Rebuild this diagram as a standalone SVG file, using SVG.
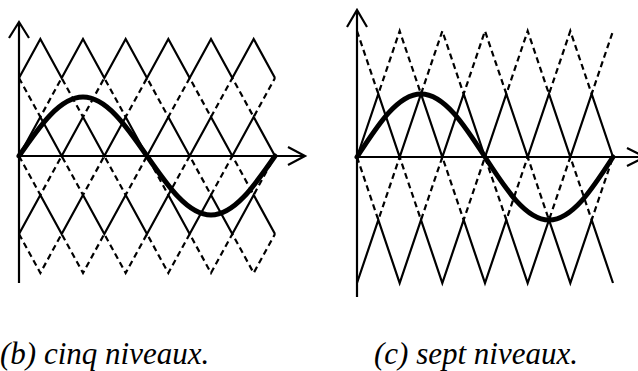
<svg xmlns="http://www.w3.org/2000/svg" xmlns:xlink="http://www.w3.org/1999/xlink" width="638" height="371" viewBox="0 0 638 371">
<text x="0" y="364" font-family="Liberation Serif" font-style="italic" font-size="31">(b) cinq niveaux.</text>
<text x="374" y="364" font-family="Liberation Serif" font-style="italic" font-size="31">(c) sept niveaux.</text>
<defs>
<path id="solL" d="M0,39 l21.333,-39 l21.333,39 l21.333,-39 l21.333,39 l21.333,-39 l21.333,39 l21.333,-39 l21.333,39 l21.333,-39 l21.333,39 l21.333,-39 l21.333,39"/>
<path id="dasL" d="M0,0 l21.333,39 l21.333,-39 l21.333,39 l21.333,-39 l21.333,39 l21.333,-39 l21.333,39 l21.333,-39 l21.333,39 l21.333,-39 l21.333,39 l21.333,-39"/>
<path id="solR" d="M0,63 l21.333,-63 l21.333,63 l21.333,-63 l21.333,63 l21.333,-63 l21.333,63 l21.333,-63 l21.333,63 l21.333,-63 l21.333,63 l21.333,-63 l21.333,63"/>
<path id="dasR" d="M0,0 l21.333,63 l21.333,-63 l21.333,63 l21.333,-63 l21.333,63 l21.333,-63 l21.333,63 l21.333,-63 l21.333,63 l21.333,-63 l21.333,63 l21.333,-63"/>
</defs>

<g id="diagram-b">
  <g id="b-carriers-solid" fill="none" stroke="#000" stroke-width="2.2">
    <use xlink:href="#solL" transform="translate(19,39)"/>
    <use xlink:href="#solL" transform="translate(19,117)"/>
    <use xlink:href="#solL" transform="translate(19,195)"/>
  </g>
  <g id="b-carriers-dashed" fill="none" stroke="#000" stroke-width="2.2" stroke-dasharray="6 4">
    <use xlink:href="#dasL" transform="translate(19,78)"/>
    <use xlink:href="#dasL" transform="translate(19,156)"/>
    <use xlink:href="#dasL" transform="translate(19,234)"/>
  </g>
  <g id="b-axes" fill="none" stroke="#000" stroke-width="2.2">
    <path d="M19,283 V22 M9,38 L19,22 L29,38"/>
    <path d="M19,156 H305 M288,147 L305,156 L288,165"/>
  </g>
  <path id="b-sine" fill="none" stroke="#000" stroke-width="5" stroke-linecap="round" d="M19,156 C39.87,125.78 59.84,97 83,97 C106.16,97 126.13,125.78 147,156 C167.87,186.22 187.84,215 211,215 C234.16,215 254.13,186.22 275,156"/>
</g>

<g id="diagram-c">
  <g id="c-carriers-solid" fill="none" stroke="#000" stroke-width="2.2">
    <use xlink:href="#solR" transform="translate(357,94)"/>
    <use xlink:href="#solR" transform="translate(357,220)"/>
  </g>
  <g id="c-carriers-dashed" fill="none" stroke="#000" stroke-width="2.2" stroke-dasharray="6 4">
    <use xlink:href="#dasR" transform="translate(357,31)"/>
    <use xlink:href="#dasR" transform="translate(357,157)"/>
  </g>
  <g id="c-axes" fill="none" stroke="#000" stroke-width="2.2">
    <path d="M357,297 V10 M347,27 L357,10 L367,27"/>
    <path d="M357,157 H645 M627,148 L645,157 L627,166"/>
  </g>
  <path id="c-sine" fill="none" stroke="#000" stroke-width="5" stroke-linecap="round" d="M357,157 C377.87,124.73 397.84,94 421,94 C444.16,94 464.13,124.73 485,157 C505.87,189.27 525.84,220 549,220 C572.16,220 592.13,189.27 613,157"/>
</g>
</svg>
